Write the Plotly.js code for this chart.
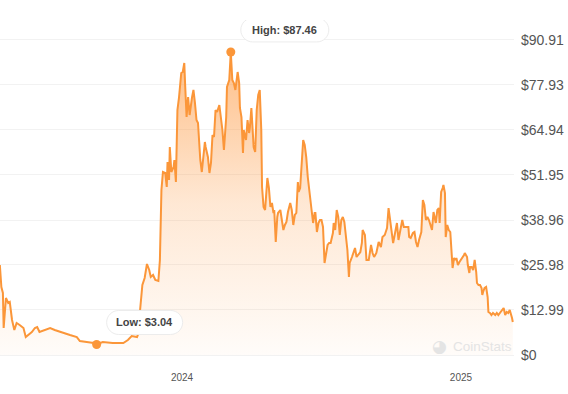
<!DOCTYPE html>
<html>
<head>
<meta charset="utf-8">
<script src="https://cdn.plot.ly/plotly-3.0.1.min.js"></script>
<style>
  html, body { margin: 0; padding: 0; background: #ffffff; }
  #chart { width: 568px; height: 394px; }
</style>
</head>
<body>
<div id="chart"></div>
<script>
// ---- data ----
const dates = [
  "2023-05-07","2023-05-09","2023-05-11","2023-05-12","2023-05-15","2023-05-18","2023-05-20","2023-05-23","2023-05-26","2023-05-29",
  "2023-06-02","2023-06-07","2023-06-10","2023-06-13","2023-06-18","2023-06-22","2023-06-25","2023-06-28","2023-07-05","2023-07-12",
  "2023-07-18","2023-07-25","2023-07-31","2023-08-07","2023-08-16","2023-08-20","2023-08-29","2023-09-07","2023-09-11","2023-09-19",
  "2023-10-02","2023-10-16","2023-10-22","2023-10-27","2023-11-03","2023-11-04","2023-11-07","2023-11-10","2023-11-13","2023-11-16",
  "2023-11-19","2023-11-21","2023-11-24","2023-11-27","2023-12-01","2023-12-03","2023-12-05","2023-12-07","2023-12-10","2023-12-12",
  "2023-12-13","2023-12-15","2023-12-16","2023-12-18","2023-12-21","2023-12-22","2023-12-24","2023-12-26","2023-12-28","2023-12-31",
  "2024-01-02","2024-01-04","2024-01-05","2024-01-07","2024-01-09","2024-01-11","2024-01-14","2024-01-16","2024-01-18","2024-01-20",
  "2024-01-22","2024-01-25","2024-01-27","2024-01-29","2024-01-31","2024-02-01","2024-02-04","2024-02-06","2024-02-08","2024-02-10",
  "2024-02-12","2024-02-14","2024-02-16","2024-02-19","2024-02-21","2024-02-23","2024-02-25","2024-02-28","2024-02-29","2024-03-03",
  "2024-03-05","2024-03-07","2024-03-09","2024-03-11","2024-03-14","2024-03-16","2024-03-17","2024-03-19","2024-03-21","2024-03-22",
  "2024-03-24","2024-03-25","2024-03-27","2024-03-29","2024-03-30","2024-04-01","2024-04-04","2024-04-06","2024-04-08","2024-04-10",
  "2024-04-12","2024-04-14","2024-04-15","2024-04-17","2024-04-19","2024-04-21","2024-04-22","2024-04-24","2024-04-26","2024-04-28",
  "2024-04-30","2024-05-01","2024-05-03","2024-05-05","2024-05-06","2024-05-09","2024-05-11","2024-05-13","2024-05-15","2024-05-17",
  "2024-05-19","2024-05-22","2024-05-24","2024-05-26","2024-05-28","2024-05-30","2024-06-01","2024-06-02","2024-06-04","2024-06-06",
  "2024-06-08","2024-06-10","2024-06-12","2024-06-14","2024-06-16","2024-06-17","2024-06-19","2024-06-21","2024-06-23","2024-06-24",
  "2024-06-26","2024-06-28","2024-06-30","2024-07-02","2024-07-04","2024-07-06","2024-07-08","2024-07-10","2024-07-12","2024-07-14",
  "2024-07-17","2024-07-18","2024-07-20","2024-07-22","2024-07-24","2024-07-26","2024-07-28","2024-07-30","2024-08-01","2024-08-03",
  "2024-08-05","2024-08-07","2024-08-08","2024-08-11","2024-08-13","2024-08-15","2024-08-17","2024-08-19","2024-08-22","2024-08-24",
  "2024-08-25","2024-08-28","2024-08-30","2024-09-02","2024-09-05","2024-09-07","2024-09-09","2024-09-12","2024-09-13","2024-09-15",
  "2024-09-18","2024-09-20","2024-09-23","2024-09-26","2024-09-28","2024-09-30","2024-10-02","2024-10-04","2024-10-06","2024-10-09",
  "2024-10-11","2024-10-13","2024-10-16","2024-10-18","2024-10-21","2024-10-24","2024-10-25","2024-10-27","2024-10-30","2024-11-01",
  "2024-11-03","2024-11-05","2024-11-07","2024-11-10","2024-11-12","2024-11-14","2024-11-16","2024-11-18","2024-11-20","2024-11-21",
  "2024-11-24","2024-11-26","2024-11-27","2024-11-29","2024-12-01","2024-12-03","2024-12-04","2024-12-06","2024-12-08","2024-12-09",
  "2024-12-11","2024-12-12","2024-12-14","2024-12-16","2024-12-18","2024-12-20","2024-12-21","2024-12-23","2024-12-25","2024-12-26",
  "2024-12-28","2024-12-30","2025-01-01","2025-01-03","2025-01-05","2025-01-06","2025-01-09","2025-01-10","2025-01-12","2025-01-13",
  "2025-01-15","2025-01-17","2025-01-19","2025-01-21","2025-01-22","2025-01-24","2025-01-26","2025-01-28","2025-01-29","2025-01-30",
  "2025-02-01","2025-02-03","2025-02-05","2025-02-06","2025-02-08","2025-02-10","2025-02-12","2025-02-15","2025-02-17","2025-02-19",
  "2025-02-21","2025-02-23","2025-02-26","2025-02-28","2025-03-02","2025-03-04","2025-03-06","2025-03-09","2025-03-10"
];
const prices = [
  25.97,19.62,17.89,7.79,16.45,15.01,15.30,10.10,7.22,9.24,
  8.66,7.79,5.19,5.77,6.64,7.79,8.08,6.64,7.22,7.79,
  7.22,6.64,6.35,5.77,5.19,4.04,3.75,3.46,3.04,3.75,
  3.46,3.46,4.33,5.48,5.19,5.77,12.99,20.20,22.22,26.26,
  24.53,22.51,23.09,21.65,21.36,27.42,47.62,52.81,52.53,48.48,
  55.70,50.51,60.03,52.81,54.26,56.28,49.93,70.71,74.17,81.39,
  81.67,84.27,78.50,68.69,74.46,69.26,74.17,76.48,72.73,67.82,
  66.96,56.28,52.81,57.14,61.47,60.03,57.14,52.53,55.41,63.49,
  62.91,70.71,70.13,72.15,68.69,64.94,59.16,68.69,77.34,79.37,
  87.46,79.37,78.50,76.48,81.67,78.50,71.28,68.69,58.30,64.94,
  62.91,62.05,67.82,64.07,65.51,71.28,60.03,58.59,70.71,75.04,
  76.48,64.94,48.48,42.71,41.85,47.62,51.08,48.20,42.71,43.87,
  40.98,41.85,32.61,39.83,40.98,41.85,38.38,36.08,37.52,38.38,
  41.27,43.87,41.85,37.52,40.40,40.98,49.93,47.04,48.20,56.85,
  62.05,60.61,57.14,51.37,46.75,44.73,41.85,38.10,40.98,40.98,
  35.50,38.10,38.96,38.96,36.94,26.55,29.73,31.75,32.32,32.32,
  35.21,38.10,36.08,41.85,39.83,34.63,38.96,39.83,38.38,34.05,
  30.30,22.51,26.55,28.28,29.44,30.88,28.28,28.86,29.73,32.32,
  36.08,34.63,27.42,27.42,31.75,29.44,28.28,29.44,30.88,32.61,
  31.17,34.05,34.63,36.65,42.42,38.96,36.08,32.32,34.63,38.10,
  33.19,35.21,38.96,36.94,36.94,36.94,34.05,33.77,35.21,35.50,
  32.61,31.17,33.19,35.50,44.73,43.29,38.96,39.83,38.96,38.10,
  36.08,41.27,39.83,38.10,41.85,42.42,38.10,47.04,48.20,49.06,
  46.75,34.05,37.52,36.08,35.50,29.44,25.11,27.99,27.42,27.99,
  25.97,26.84,27.42,27.99,28.86,29.44,28.28,25.97,23.67,25.40,
  25.40,24.53,27.42,23.95,20.78,20.20,20.20,19.34,17.32,18.18,
  19.34,19.62,16.74,12.41,12.12,11.54,12.12,11.54,12.12,11.54,
  12.12,12.99,13.56,11.54,12.41,12.12,12.99,10.68,9.52
];
const yTickValues = [0, 12.99, 25.98, 38.96, 51.95, 64.94, 77.93, 90.91];
const yTickLabels = ["$0", "$12.99", "$25.98", "$38.96", "$51.95", "$64.94", "$77.93", "$90.91"];
const highDate = "2024-03-05", highValue = 87.46, highLabel = "High: $87.46";
const lowDate = "2023-09-11", lowValue = 3.04, lowLabel = "Low: $3.04";

// ---- styling ----
const ORANGE = "#fb9639";
const FONT = "Liberation Sans, Arial, sans-serif";

function pillPath(cx, cy, w, h) {
  // rounded pill in pixel units relative to an anchor (y up)
  const r = h / 2, k = 0.5523 * r;
  const x0 = cx - w / 2 + r, x1 = cx + w / 2 - r;
  const yt = cy + r, yb = cy - r;
  return `M${x0},${yt} L${x1},${yt} ` +
    `C${x1 + k},${yt} ${x1 + r},${cy + k} ${x1 + r},${cy} ` +
    `C${x1 + r},${cy - k} ${x1 + k},${yb} ${x1},${yb} ` +
    `L${x0},${yb} ` +
    `C${x0 - k},${yb} ${x0 - r},${cy - k} ${x0 - r},${cy} ` +
    `C${x0 - r},${cy + k} ${x0 - k},${yt} ${x0},${yt} Z`;
}

const priceTrace = {
  type: "scatter",
  mode: "lines",
  x: dates,
  y: prices,
  line: { color: ORANGE, width: 2, shape: "linear" },
  fill: "tozeroy",
  fillgradient: {
    type: "vertical",
    start: 0,
    stop: highValue,
    colorscale: [
      [0, "rgba(253,150,60,0.03)"],
      [0.5, "rgba(253,150,60,0.22)"],
      [1, "rgba(253,150,60,0.62)"]
    ]
  },
  hoverinfo: "skip",
  showlegend: false
};

const extremaTrace = {
  type: "scatter",
  mode: "markers",
  x: [highDate, lowDate],
  y: [highValue, lowValue],
  marker: { color: ORANGE, size: 9 },
  hoverinfo: "skip",
  showlegend: false
};

const layout = {
  width: 568,
  height: 394,
  margin: { l: 0, r: 54, t: 20, b: 34, pad: 0 },
  paper_bgcolor: "#ffffff",
  plot_bgcolor: "#ffffff",
  font: { family: FONT, color: "#555555" },
  xaxis: {
    type: "date",
    range: ["2023-05-07 04:48", "2025-03-11 14:00"],
    showgrid: false,
    zeroline: false,
    showline: false,
    ticks: "",
    dtick: "M12",
    tick0: "2024-01-01",
    tickformat: "%Y",
    tickfont: { size: 10, color: "#555555", family: FONT },
    ticklabelstandoff: 10,
    fixedrange: true
  },
  yaxis: {
    side: "right",
    range: [-1.443, 96.68],
    tickmode: "array",
    tickvals: yTickValues,
    ticktext: yTickLabels,
    showgrid: true,
    gridcolor: "#f2f2f2",
    gridwidth: 1,
    zeroline: false,
    showline: false,
    ticks: "",
    tickfont: { size: 14, color: "#555555", family: FONT },
    ticklabelstandoff: 6,
    fixedrange: true
  },
  shapes: [
    {
      type: "path", layer: "above",
      xref: "x", yref: "y", xsizemode: "pixel", ysizemode: "pixel",
      xanchor: highDate, yanchor: highValue,
      path: pillPath(54, 22, 88, 24),
      fillcolor: "#ffffff", line: { color: "#ececec", width: 1 }
    },
    {
      type: "path", layer: "above",
      xref: "x", yref: "y", xsizemode: "pixel", ysizemode: "pixel",
      xanchor: lowDate, yanchor: lowValue,
      path: pillPath(48, 22, 76, 24),
      fillcolor: "#ffffff", line: { color: "#ececec", width: 1 }
    }
  ],
  annotations: [
    {
      x: highDate, y: highValue, xref: "x", yref: "y",
      text: "<b>" + highLabel + "</b>", showarrow: false,
      xshift: 54, yshift: 22,
      font: { size: 11, color: "#444444", family: FONT }
    },
    {
      x: lowDate, y: lowValue, xref: "x", yref: "y",
      text: "<b>" + lowLabel + "</b>", showarrow: false,
      xshift: 48, yshift: 22,
      font: { size: 11, color: "#444444", family: FONT }
    },
    {
      x: 1, y: 0.04, xref: "paper", yref: "paper",
      xanchor: "right", yanchor: "middle",
      text: "CoinStats", showarrow: false,
      font: { size: 13.5, color: "#e4e4e4", family: FONT }
    },
    {
      x: 0.856, y: 0.04, xref: "paper", yref: "paper",
      xanchor: "center", yanchor: "middle",
      text: "◕", showarrow: false,
      font: { size: 17, color: "#e4e4e4", family: "DejaVu Sans" }
    }
  ]
};

Plotly.newPlot("chart", [priceTrace, extremaTrace], layout, { displayModeBar: false, staticPlot: true });
</script>
</body>
</html>
